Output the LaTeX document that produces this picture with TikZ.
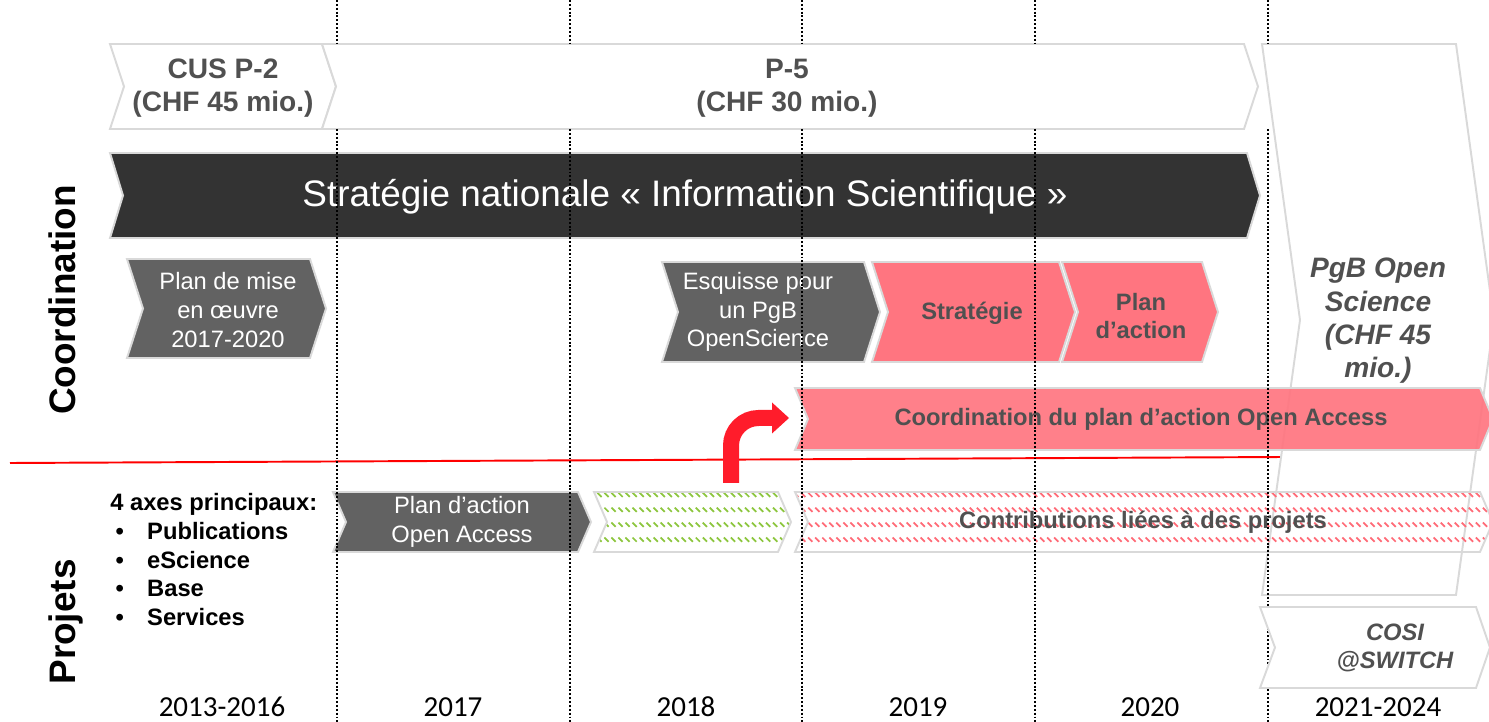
\documentclass[tikz,border=0pt]{standalone}
\usepackage{fontspec}
\setmainfont{Liberation Sans}
\newfontfamily\yearfont{Carlito}
\usetikzlibrary{arrows.meta,patterns}

\definecolor{rimgray}{HTML}{D9D9D9}
\definecolor{darkbar}{HTML}{333333}
\definecolor{midgray}{HTML}{626262}
\definecolor{salmon}{HTML}{FF7580}
\definecolor{textgray}{HTML}{505050}
\definecolor{arrowred}{HTML}{FF1C2B}
\definecolor{hatchgreen}{HTML}{8DC63F}
\definecolor{hatchred}{HTML}{FF6B77}

% short diagonal dashes in rows
\pgfdeclarepatternformonly{dashhatch}{\pgfqpoint{-1pt}{-1pt}}{\pgfqpoint{5pt}{9.5pt}}{\pgfqpoint{4pt}{8.5pt}}{%
  \pgfsetlinewidth{1pt}
  \pgfpathmoveto{\pgfqpoint{0pt}{3pt}}
  \pgfpathlineto{\pgfqpoint{2.4pt}{0.6pt}}
  \pgfusepath{stroke}}

\tikzset{
  chev/.style={draw=rimgray, line width=1.1pt},
  grid/.style={line width=1.1pt, dash pattern=on 1.1pt off 1.1pt},
  budget/.style={font=\bfseries\fontsize{16}{19}\selectfont, text=textgray, align=center},
  whitetxt/.style={font=\fontsize{13.5}{16.4}\selectfont, text=white, align=center},
  boldtxt/.style={font=\bfseries\fontsize{13.5}{15.8}\selectfont, text=textgray, align=center},
  axis/.style={font=\bfseries\fontsize{21}{24}\selectfont, rotate=90},
  year/.style={font=\yearfont\fontsize{16.5}{19}\selectfont},
  bendarrow/.style={draw=arrowred, line width=0.32cm, rounded corners=0.55cm,
    -{Triangle[length=0.34cm 0 0, width=0.62cm 0 0, line width=0pt]}}
}

\begin{document}
\begin{tikzpicture}[x=0.02cm, y=-0.02cm]
  \useasboundingbox (0,0) rectangle (1489,722);

  % budget row
  \filldraw[chev, fill=white] (110,44) -- (322,44) -- (336,86.5) -- (322,129) -- (110,129) -- (124,86.5) -- cycle;
  \filldraw[chev, fill=white] (322,44) -- (1244,44) -- (1258,86.5) -- (1244,129) -- (322,129) -- (336,86.5) -- cycle;
  \node[budget] (cus) at (223,88) {CUS P-2\\(CHF 45 mio.)};
  \node[budget] (p5) at (787,88) {P-5\\(CHF 30 mio.)};

  % strategy
  \filldraw[chev, fill=darkbar] (110,153) -- (1247,153) -- (1260,195.5) -- (1247,238) -- (110,238) -- (123,195.5) -- cycle;
  \node[font=\fontsize{21}{25}\selectfont, text=white] (strat) at (685,197) {Stratégie nationale « Information Scientifique »};

  \filldraw[chev, fill=midgray] (127,259) -- (310,259) -- (326,308.5) -- (310,358) -- (127,358) -- (143,308.5) -- cycle;
  \node[whitetxt] (mise) at (228,310) {Plan de mise\\en œuvre\\2017-2020};

  \filldraw[chev, fill=midgray] (662,262) -- (864,262) -- (880,312) -- (864,362) -- (662,362) -- (678,312) -- cycle;
  \node[whitetxt] (esq) at (758,312) {Esquisse pour\\un PgB\\OpenScience};
  \filldraw[chev, fill=salmon] (872,262) -- (1059,262) -- (1075,312) -- (1059,362) -- (872,362) -- (888,312) -- cycle;
  \node[boldtxt] (strg) at (972,313) {Stratégie};
  \filldraw[chev, fill=salmon] (1062,262) -- (1202,262) -- (1218,312) -- (1202,362) -- (1062,362) -- (1078,312) -- cycle;
  \node[boldtxt] (plan) at (1141,316) {Plan\\d’action};

  % separation line
  \draw[red, line width=1.1pt] (10,463) -- (1285,457);

  % next programme
  \filldraw[chev, fill=white] (1262,44) -- (1456,44) -- (1494,320) -- (1456,595) -- (1262,595) -- (1300,320) -- cycle;
  \node[budget, font=\bfseries\itshape\fontsize{16}{19}\selectfont] (pgb) at (1378,321) {PgB Open\\Science\\(CHF 45\\mio.)};

  \filldraw[chev, fill=salmon, fill opacity=0.92] (795,388) -- (1480,388) -- (1493,419) -- (1480,450) -- (795,450) -- (808,419) -- cycle;
  \node[boldtxt] (coord) at (1141,419) {Coordination du plan d’action Open Access};

  % projects row
  \filldraw[chev, fill=midgray] (333,492) -- (578,492) -- (591,522) -- (578,552) -- (333,552) -- (346,522) -- cycle;
  \node[whitetxt] (oa) at (462,522) {Plan d’action\\Open Access};
  \fill[pattern=dashhatch, pattern color=hatchgreen] (594,492) -- (778,492) -- (791,522) -- (778,552) -- (594,552) -- (607,522) -- cycle;
  \draw[chev] (594,492) -- (778,492) -- (791,522) -- (778,552) -- (594,552) -- (607,522) -- cycle;
  \fill[pattern=dashhatch, pattern color=hatchred] (795,492) -- (1480,492) -- (1493,522) -- (1480,552) -- (795,552) -- (808,522) -- cycle;
  \draw[chev] (795,492) -- (1480,492) -- (1493,522) -- (1480,552) -- (795,552) -- (808,522) -- cycle;
  \node[boldtxt] (contrib) at (1143,522) {Contributions liées à des projets};

  \node[anchor=north west, inner sep=0pt, align=left, font=\bfseries\fontsize{13.5}{16.4}\selectfont] (axes) at (110,493)
    {4 axes principaux:\\
     \makebox[21pt][l]{\hspace{3pt}•}Publications\\
     \makebox[21pt][l]{\hspace{3pt}•}eScience\\
     \makebox[21pt][l]{\hspace{3pt}•}Base\\
     \makebox[21pt][l]{\hspace{3pt}•}Services};

  % bent arrow
  \coordinate (up) at (731,483);
  \coordinate (right) at (789,418);
  \draw[bendarrow] (up) |- (right);

  % year lines
  \foreach \x in {337,570,802,1035,1268} {
    \draw[grid] (\x,0) -- (\x,44);
    \draw[grid] (\x,129) -- (\x,722);
  }

  \filldraw[chev, fill=white] (1260,607) -- (1476,607) -- (1490,647.5) -- (1476,688) -- (1260,688) -- (1275,647.5) -- cycle;
  \node[boldtxt, font=\bfseries\itshape\fontsize{13.5}{15.8}\selectfont] (cosi) at (1395,648) {COSI\\@SWITCH};

  % axis labels
  \node[axis] (coordlab) at (62,300) {Coordination};
  \node[axis] (projlab) at (66,622) {Projets};

  % years
  \node[year] (y1) at (222,707) {2013-2016};
  \node[year] (y2) at (453,707) {2017};
  \node[year] (y3) at (686,707) {2018};
  \node[year] (y4) at (918,707) {2019};
  \node[year] (y5) at (1150,707) {2020};
  \node[year] (y6) at (1378,707) {2021-2024};
\end{tikzpicture}
\end{document}
